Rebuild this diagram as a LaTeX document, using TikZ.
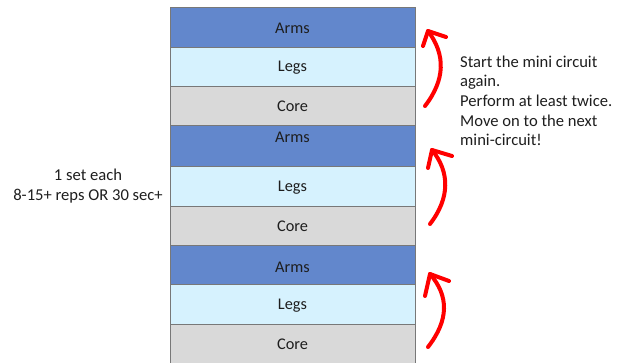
\documentclass[tikz,border=0pt]{standalone}
\usepackage{fontspec}
\setmainfont{Carlito}
\usetikzlibrary{arrows.meta}
\definecolor{armsblue}{RGB}{98,135,204}
\definecolor{legscyan}{RGB}{214,242,254}
\definecolor{coregray}{RGB}{217,217,217}
\definecolor{edgegray}{RGB}{120,120,120}
\definecolor{txt}{RGB}{30,30,30}
\begin{document}
\begin{tikzpicture}[x=1pt,y=-1pt,
  band/.style={draw=edgegray,line width=0.8pt},
  bandlabel/.style={font=\fontsize{16.3}{19}\selectfont,text=txt,inner sep=0pt,anchor=base},
  note/.style={font=\fontsize{16.6}{19.6}\selectfont,text=txt,inner sep=0pt},
  redarrow/.style={draw=red,line width=4pt,line cap=round,line join=round}]
\useasboundingbox (0,0) rectangle (624,363);
% three mini circuits, stacked
\foreach \t/\a/\l/\e in {7/47/86/125,125/166/206/245,245/284/324/372}{
  \fill[armsblue] (170,\t) rectangle (415,\a);
  \fill[legscyan] (170,\a) rectangle (415,\l);
  \fill[coregray] (170,\l) rectangle (415,\e);
  \draw[band] (170,\t) rectangle (415,\a);
  \draw[band] (170,\a) rectangle (415,\l);
  \draw[band] (170,\l) rectangle (415,\e);
}
\node[bandlabel] (arms1) at (292.5,33.5) {Arms};
\node[bandlabel] (legs1) at (292.5,72) {Legs};
\node[bandlabel] (core1) at (292.5,112) {Core};
\node[bandlabel] (arms2) at (292.5,143) {Arms};
\node[bandlabel] (legs2) at (292.5,192) {Legs};
\node[bandlabel] (core2) at (292.5,232) {Core};
\node[bandlabel] (arms3) at (292.5,272.5) {Arms};
\node[bandlabel] (legs3) at (292.5,310) {Legs};
\node[bandlabel] (core3) at (292.5,350) {Core};
% left note
\node[note,align=center] (sets) at (88,186) {1 set each\\8-15+ reps OR 30 sec+};
% right note
\node[note,align=left,anchor=north west] (again) at (460,55.5)
  {Start the mini circuit\\again.\\Perform at least twice.\\Move on to the next\\mini-circuit!};
% curved red arrows with open heads
\coordinate (b1) at (425,106); \coordinate (t1) at (428,31);
\coordinate (b2) at (430,224); \coordinate (t2) at (432,150);
\coordinate (b3) at (428,347); \coordinate (t3) at (430,274);
\draw[redarrow] (b1) .. controls (445,80) and (446,55) .. (t1);
\draw[redarrow] (423,46) -- (t1) -- (446,37);
\draw[redarrow] (b2) .. controls (450,198) and (450,172) .. (t2);
\draw[redarrow] (428,168) -- (t2) -- (452,156);
\draw[redarrow] (b3) .. controls (449,320) and (449,296) .. (t3);
\draw[redarrow] (425,296) -- (t3) -- (449,281);
\end{tikzpicture}
\end{document}
